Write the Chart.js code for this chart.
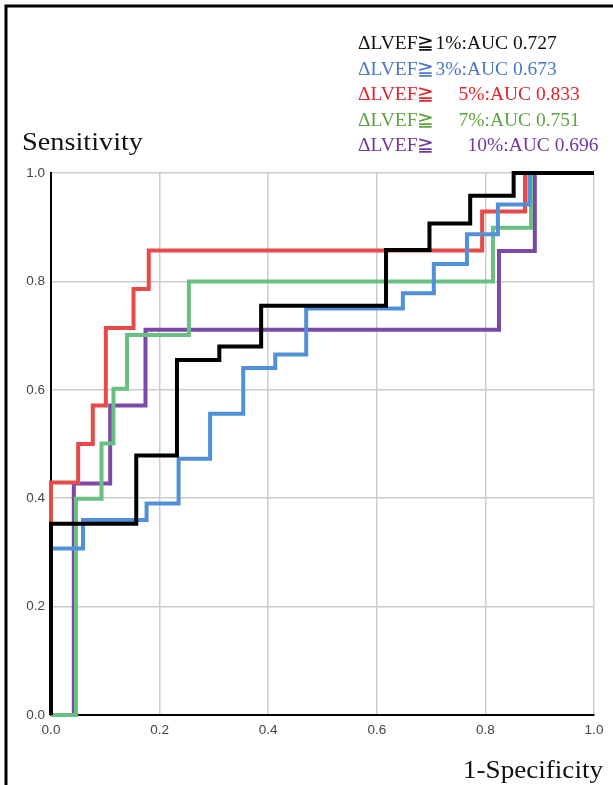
<!DOCTYPE html>
<html>
<head>
<meta charset="utf-8">
<script src="https://cdn.jsdelivr.net/npm/chart.js@4"></script>
<style>
html,body{margin:0;padding:0;background:#fff;}
#wrap{position:relative;width:613px;height:785px;}
canvas{display:block;}
</style>
</head>
<body>
<div id="wrap"><canvas id="c" width="613" height="785"></canvas></div>
<script>
// ROC vertices (1-Specificity, Sensitivity)
const fpr1  = [0, 0,     0.157, 0.232, 0.310, 0.387, 0.617, 0.697, 0.772, 0.852, 1];
const tpr1  = [0, 0.353, 0.479, 0.655, 0.680, 0.755, 0.858, 0.907, 0.958, 1.0,   1];

const fpr3  = [0, 0,     0.059, 0.176, 0.235, 0.293, 0.354, 0.413, 0.470, 0.648, 0.705, 0.766, 0.823, 0.881, 1];
const tpr3  = [0, 0.307, 0.360, 0.390, 0.473, 0.556, 0.640, 0.665, 0.750, 0.778, 0.832, 0.887, 0.942, 1.0,   1];

const fpr5  = [0, 0,     0.050, 0.077, 0.101, 0.152, 0.180, 0.794, 0.873, 1];
const tpr5  = [0, 0.429, 0.500, 0.571, 0.714, 0.786, 0.857, 0.929, 1.0,   1];

const fpr7  = [0, 0.046, 0.093, 0.115, 0.140, 0.254, 0.814, 0.884, 1];
const tpr7  = [0, 0.399, 0.501, 0.602, 0.701, 0.800, 0.899, 1.0,   1];

const fpr10 = [0, 0.042, 0.109, 0.174, 0.825, 0.891, 1];
const tpr10 = [0, 0.427, 0.571, 0.711, 0.856, 1.0,   1];

const seriesLabels = ["ΔLVEF≧1%:AUC 0.727", "ΔLVEF≧3%:AUC 0.673", "ΔLVEF≧ 5%:AUC 0.833", "ΔLVEF≧ 7%:AUC 0.751", "ΔLVEF≧ 10%:AUC 0.696"];
const tickValues = [0, 0.2, 0.4, 0.6, 0.8, 1.0];
const yTitle = "Sensitivity";
const xTitle = "1-Specificity";

const lineColors = ["#000000", "#5090d8", "#e84a4a", "#6cbf84", "#7a4aa6"];
const textColors = ["#111111", "#4a78c6", "#e4252b", "#5ea443", "#73399c"];

function pts(xs, ys){ return xs.map((x,i)=>({x:x, y:ys[i]})); }

const allX = [fpr1, fpr3, fpr5, fpr7, fpr10];
const allY = [tpr1, tpr3, tpr5, tpr7, tpr10];

const datasets = allX.map((xs,i)=>({
  label: seriesLabels[i],
  data: pts(xs, allY[i]),
  showLine: true,
  stepped: 'before',
  borderColor: lineColors[i],
  backgroundColor: lineColors[i],
  borderWidth: 4,
  pointRadius: 0,
  pointHoverRadius: 0,
  borderJoinStyle: 'miter',
  borderCapStyle: 'butt',
  fill: false,
  clip: 4
}));

function stretchedText(ctx, text, x, y, targetW, alignRight){
  const w = ctx.measureText(text).width;
  const s = targetW / w;
  ctx.save();
  ctx.translate(alignRight ? x - targetW : x, y);
  ctx.scale(s, 1);
  ctx.textAlign = 'left';
  ctx.fillText(text, 0, 0);
  ctx.restore();
}

const decor = {
  id: 'decor',
  beforeDraw(chart){
    const ctx = chart.ctx;
    ctx.save();
    ctx.fillStyle = '#fff';
    ctx.fillRect(0,0,chart.width,chart.height);
    ctx.strokeStyle = '#000';
    ctx.lineWidth = 3;
    ctx.beginPath();
    ctx.moveTo(6, 785);
    ctx.lineTo(6, 6);
    ctx.lineTo(613, 6);
    ctx.stroke();
    ctx.restore();
  },
  afterDraw(chart){
    const ctx = chart.ctx;
    ctx.save();
    ctx.textBaseline = 'alphabetic';
    ctx.fillStyle = '#111';
    ctx.font = '25px "Liberation Serif", "Times New Roman", serif';
    stretchedText(ctx, yTitle, 22, 150, 121, false);
    ctx.font = '26px "Liberation Serif", "Times New Roman", serif';
    stretchedText(ctx, xTitle, 603, 778, 140, true);
    ctx.font = '19.5px "Liberation Serif", "Times New Roman", serif';
    ctx.textAlign = 'left';
    const base = [49, 74.5, 100, 125.5, 151];
    const gaps = [1, 1, 24, 24, 33];
    const x0 = 358;
    seriesLabels.forEach((t,i)=>{
      ctx.fillStyle = textColors[i];
      const k = t.indexOf('≧') + 1;
      const head = t.slice(0, k);
      const rest = t.slice(k);
      ctx.fillText(head, x0, base[i]);
      const hw = ctx.measureText(head).width;
      ctx.fillText(rest.trim(), x0 + hw + gaps[i], base[i]);
    });
    ctx.restore();
  }
};

new Chart(document.getElementById('c'), {
  type: 'scatter',
  data: { datasets },
  options: {
    responsive: false,
    animation: false,
    devicePixelRatio: 1,
    layout: { padding: { top: 173, right: 19, left: 0, bottom: 0 } },
    plugins: { legend: { display: false }, tooltip: { enabled: false }, title: { display: false } },
    scales: {
      x: {
        type: 'linear', min: 0, max: 1,
        afterFit(s){ s.height = 70; },
        afterBuildTicks(s){ s.ticks = tickValues.map(v=>({value:v})); },
        grid: { color: '#cccccc', lineWidth: 1.5, drawTicks: false },
        border: { color: '#000', width: 2 },
        ticks: { padding: 7, color: '#444', font: { family: '"Liberation Sans", Arial, sans-serif', size: 13.5 },
                 callback: v => Number(v).toFixed(1), maxRotation: 0 }
      },
      y: {
        type: 'linear', min: 0, max: 1,
        afterFit(s){ s.width = 51; },
        afterBuildTicks(s){ s.ticks = tickValues.map(v=>({value:v})); },
        grid: { color: '#cccccc', lineWidth: 1.5, drawTicks: false },
        border: { color: '#000', width: 2 },
        ticks: { padding: 6, color: '#444', font: { family: '"Liberation Sans", Arial, sans-serif', size: 13.5 },
                 callback: v => Number(v).toFixed(1) }
      }
    }
  },
  plugins: [decor]
});
</script>
</body>
</html>
